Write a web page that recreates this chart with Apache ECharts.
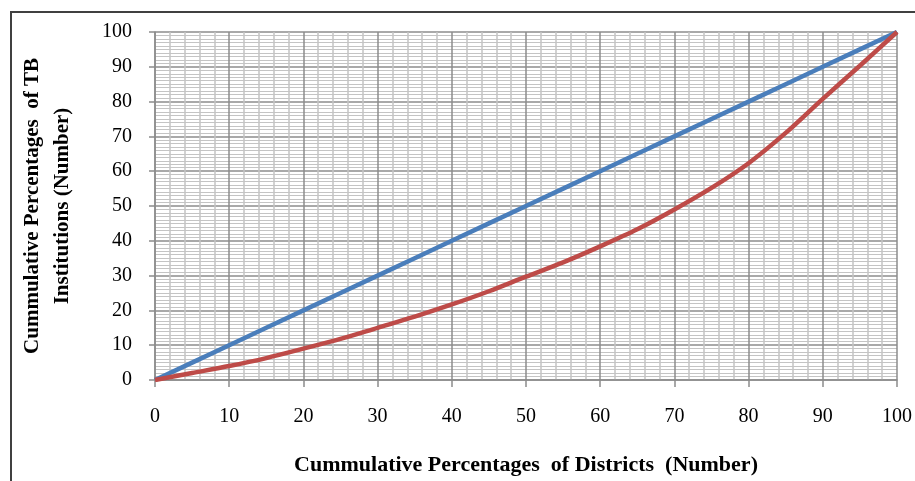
<!DOCTYPE html>
<html>
<head>
<meta charset="utf-8">
<script src="https://cdn.jsdelivr.net/npm/echarts@6/dist/echarts.min.js"></script>
<style>html,body{margin:0;padding:0;background:#fff}#c{width:915px;height:481px}</style>
</head>
<body>
<div id="c"></div>
<script>
var districtPct = [0, 5, 10, 15, 20, 25, 30, 35, 40, 45, 50, 55, 60, 65, 70, 75, 80, 85, 90, 95, 100];
var equalityPct = [0, 5, 10, 15, 20, 25, 30, 35, 40, 45, 50, 55, 60, 65, 70, 75, 80, 85, 90, 95, 100];
var institutionPct = [0, 2, 4, 6.3, 9, 11.8, 15, 18.2, 21.7, 25.5, 29.7, 33.8, 38.4, 43.3, 49, 55.2, 62.3, 71, 80.8, 90.3, 100];
var xTicks = [0, 10, 20, 30, 40, 50, 60, 70, 80, 90, 100];

var chart = echarts.init(document.getElementById('c'));
var font = '"Liberation Serif", "Times New Roman", serif';
function pairs(xs, ys) { return xs.map(function (x, i) { return [x, ys[i]]; }); }

chart.setOption({
  animation: false,
  backgroundColor: '#fff',
  grid: { left: 155, top: 32, right: 14, bottom: 100, containLabel: false },
  graphic: [{
    type: 'rect', silent: true, z: -1,
    shape: { x: 11, y: 12, width: 930, height: 500 },
    style: { fill: 'none', stroke: '#404040', lineWidth: 2 }
  }],
  xAxis: {
    type: 'value', min: 0, max: 100, interval: 10,
    name: 'Cummulative Percentages  of Districts  (Number)',
    nameLocation: 'middle', nameGap: 74,
    nameTextStyle: { fontFamily: font, fontSize: 22, fontWeight: 'bold', color: '#000' },
    axisLine: { show: true, lineStyle: { color: '#8c8c8c', width: 1.5 } },
    axisTick: { show: true, length: 7, inside: false, lineStyle: { color: '#8c8c8c', width: 1.5 } },
    axisLabel: { fontFamily: font, fontSize: 20, color: '#000', margin: 27,
      formatter: function (v) { return xTicks.indexOf(v) >= 0 ? String(v) : ''; } },
    splitLine: { show: true, lineStyle: { color: '#8c8c8c', width: 1.5 } },
    minorTick: { show: false, splitNumber: 5 },
    minorSplitLine: { show: true, lineStyle: { color: '#c4c4c4', width: 1.5 } }
  },
  yAxis: {
    type: 'value', min: 0, max: 100, interval: 10,
    name: 'Cummulative Percentages  of TB\nInstitutions (Number)',
    nameLocation: 'middle', nameGap: 77, nameRotate: 90,
    nameTextStyle: { fontFamily: font, fontSize: 21, fontWeight: 'bold', color: '#000', lineHeight: 30 },
    axisLine: { show: true, lineStyle: { color: '#8c8c8c', width: 1.5 } },
    axisTick: { show: true, length: 6, inside: false, lineStyle: { color: '#8c8c8c', width: 1.5 } },
    axisLabel: { fontFamily: font, fontSize: 20, color: '#000', margin: 23 },
    splitLine: { show: true, lineStyle: { color: '#8c8c8c', width: 1.5 } },
    minorTick: { show: false, splitNumber: 10 },
    minorSplitLine: { show: true, lineStyle: { color: '#c4c4c4', width: 1.2 } }
  },
  series: [{
    type: 'line', name: 'Equality',
    data: pairs(districtPct, equalityPct),
    showSymbol: false, symbol: 'none',
    lineStyle: { color: '#4a7ebb', width: 4.5 }, z: 3
  }, {
    type: 'line', name: 'TB Institutions',
    data: pairs(districtPct, institutionPct),
    smooth: 0.3, showSymbol: false, symbol: 'none',
    lineStyle: { color: '#be4b48', width: 4.5 }, z: 4
  }]
});
</script>
</body>
</html>
